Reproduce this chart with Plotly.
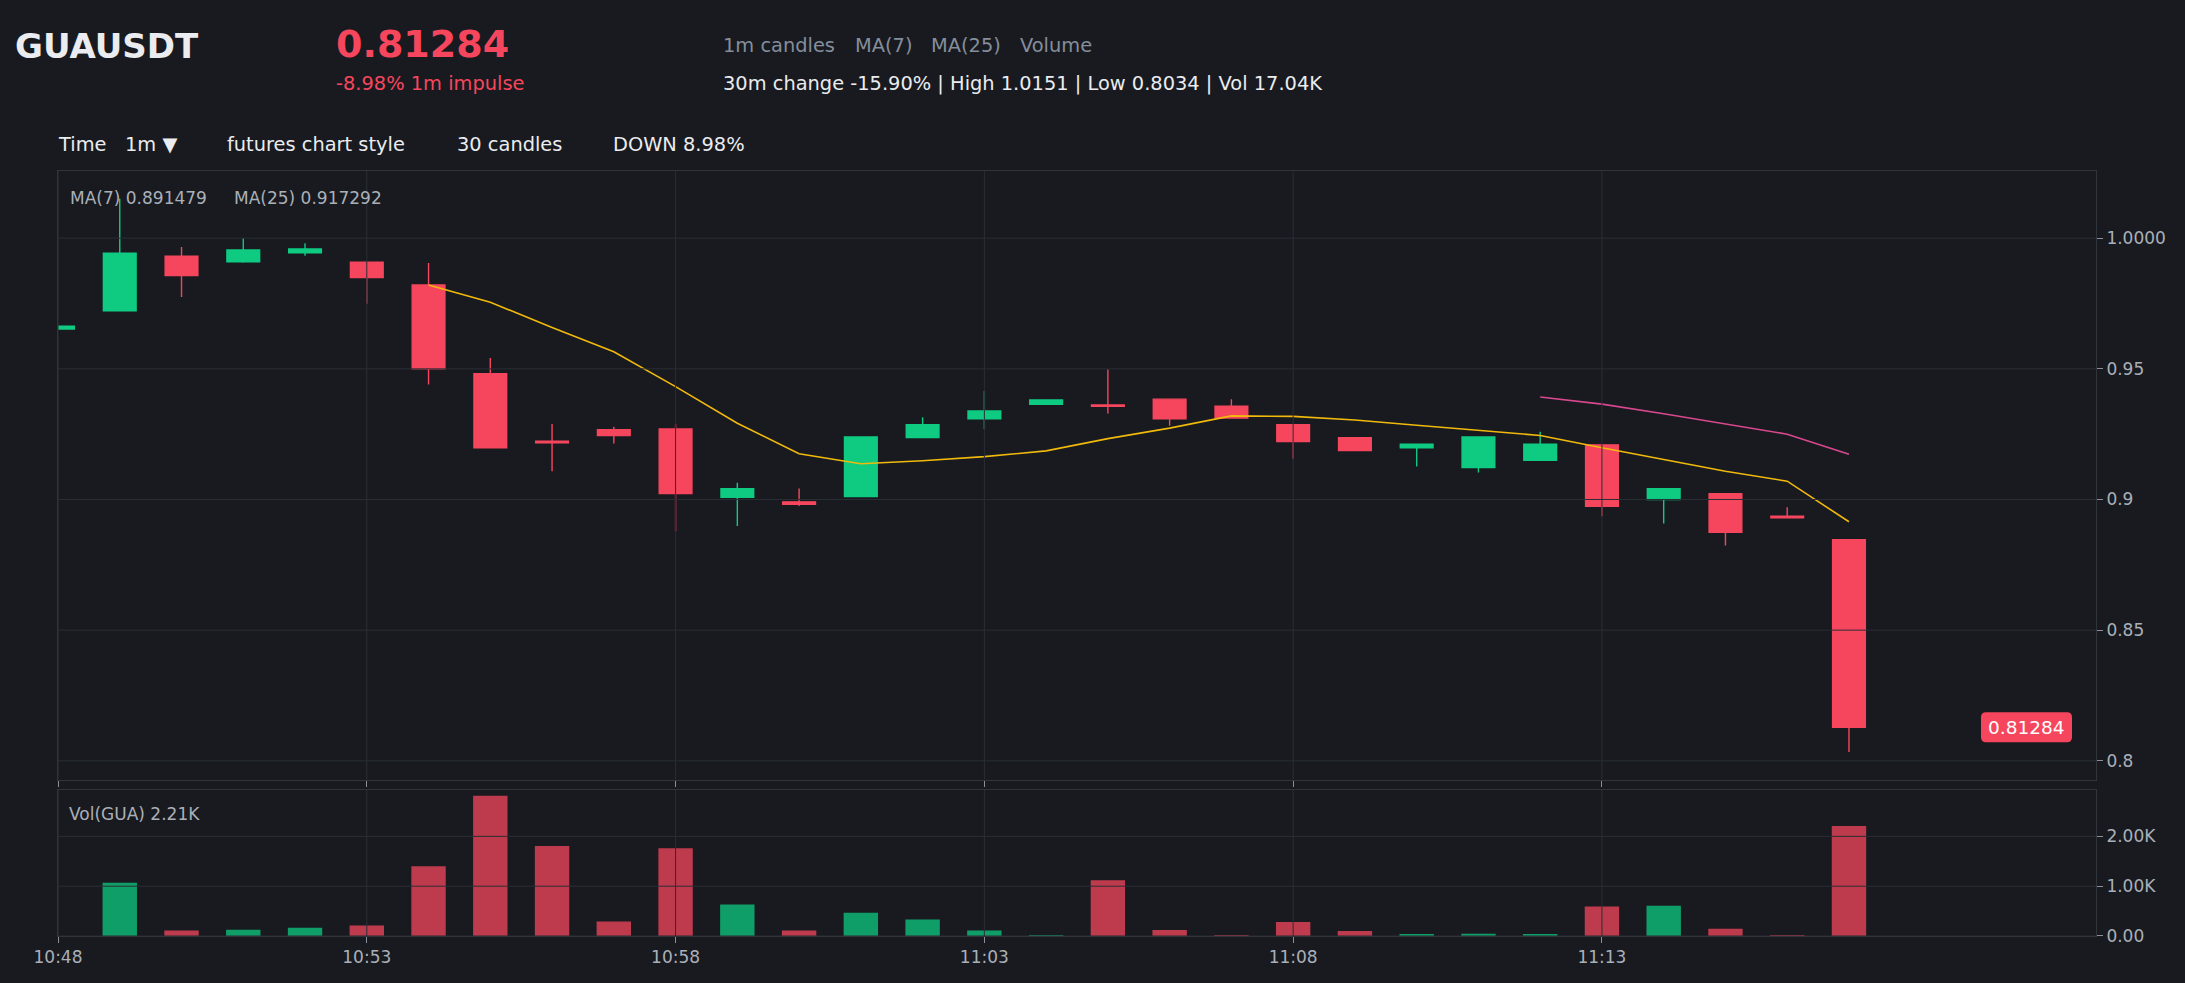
import plotly.graph_objects as go
import pandas as pd

# ---------------- data ----------------
TIMES = ["10:48", "10:49", "10:50", "10:51", "10:52", "10:53", "10:54", "10:55", "10:56", "10:57",
         "10:58", "10:59", "11:00", "11:01", "11:02", "11:03", "11:04", "11:05", "11:06", "11:07",
         "11:08", "11:09", "11:10", "11:11", "11:12", "11:13", "11:14", "11:15", "11:16", "11:17"]
OPEN = [0.9652, 0.9722, 0.9931, 0.9910, 0.9944, 0.9908, 0.9821, 0.9481, 0.9223, 0.9267,
        0.9270, 0.9008, 0.8991, 0.9011, 0.9237, 0.9309, 0.9364, 0.9362, 0.9384, 0.9357,
        0.9286, 0.9236, 0.9198, 0.9122, 0.9150, 0.9209, 0.9000, 0.9022, 0.8936, 0.8846]
HIGH = [0.9666, 1.0151, 0.9966, 1.0000, 0.9981, 0.9910, 0.9905, 0.9541, 0.9289, 0.9278,
        0.9289, 0.9064, 0.9042, 0.9239, 0.9315, 0.9415, 0.9381, 0.9497, 0.9384, 0.9384,
        0.9290, 0.9239, 0.9212, 0.9239, 0.9259, 0.9212, 0.9041, 0.9022, 0.8970, 0.8846]
LOW = [0.9650, 0.9720, 0.9775, 0.9906, 0.9933, 0.9749, 0.9440, 0.9198, 0.9108, 0.9214,
       0.8878, 0.8899, 0.8975, 0.9011, 0.9237, 0.9270, 0.9364, 0.9329, 0.9282, 0.9312,
       0.9156, 0.9187, 0.9126, 0.9103, 0.9150, 0.8936, 0.8908, 0.8824, 0.8927, 0.8034]
CLOSE = [0.9663, 0.9942, 0.9857, 0.9955, 0.9959, 0.9849, 0.9500, 0.9198, 0.9217, 0.9245,
         0.9023, 0.9041, 0.8982, 0.9239, 0.9286, 0.9339, 0.9381, 0.9357, 0.9309, 0.9312,
         0.9222, 0.9187, 0.9212, 0.9239, 0.9212, 0.8974, 0.9041, 0.8874, 0.8930, 0.81284]
VOLUME = [0, 1070, 108, 128, 168, 209, 1400, 2815, 1805, 290,
          1764, 633, 108, 465, 330, 108, 5, 1118, 121, 5,
          283, 101, 30, 47, 40, 593, 606, 148, 8, 2210]
MA7_TIMES = TIMES[6:]
MA7 = [0.9821, 0.9755, 0.9658, 0.9565, 0.9432, 0.9292, 0.9175, 0.9137, 0.9148, 0.9164,
       0.9186, 0.9233, 0.9273, 0.9320, 0.9318, 0.9304, 0.9284, 0.9265, 0.9245, 0.9198,
       0.9154, 0.9108, 0.9070, 0.891479]
MA25_TIMES = TIMES[24:]
MA25 = [0.9392, 0.9365, 0.9328, 0.9290, 0.9250, 0.917292]

X_RANGE = ["10:48", "11:21"]
X_TICKS = ["10:48", "10:53", "10:58", "11:03", "11:08", "11:13"]
PRICE_RANGE = [0.7928, 1.0257]
PRICE_TICKS = [0.8, 0.85, 0.9, 0.95, 1.0]
PRICE_TICK_TEXT = ["0.8", "0.85", "0.9", "0.95", "1.0000"]
VOL_RANGE = [0, 2930]
VOL_TICKS = [0, 1000, 2000]
VOL_TICK_TEXT = ["0.00", "1.00K", "2.00K"]

SYMBOL = "GUAUSDT"
LAST = "0.81284"

DAY = "2025-01-01 "
def ts(t):
    return pd.Timestamp(DAY + t)

x = [ts(t) for t in TIMES]

# ---------------- style ----------------
BG = "#181a20"
UP = "#0ecb81"
DOWN = "#f6465d"
GRID = "#2a2e35"
BORDER = "#30343b"
TICKC = "#8a9099"
TICKTXT = "#aab0b8"
FONT = "DejaVu Sans"

W, H = 2185, 983
ML, MR, MT, MB = 58, 89, 171, 47
PW, PH = W - ML - MR, H - MT - MB


def px(v):
    return (v - ML) / PW


def py(v):
    return (H - MB - v) / PH


fig = go.Figure()

fig.add_trace(go.Candlestick(
    x=x, open=OPEN, high=HIGH, low=LOW, close=CLOSE,
    increasing=dict(line=dict(color=UP, width=1.4), fillcolor=UP),
    decreasing=dict(line=dict(color=DOWN, width=1.4), fillcolor=DOWN),
    whiskerwidth=0, showlegend=False, hoverinfo="skip",
    xaxis="x", yaxis="y"))

fig.add_trace(go.Scatter(x=[ts(t) for t in MA7_TIMES], y=MA7, mode="lines",
                         line=dict(color="#f0b90b", width=1.6), showlegend=False,
                         hoverinfo="skip", xaxis="x", yaxis="y"))
fig.add_trace(go.Scatter(x=[ts(t) for t in MA25_TIMES], y=MA25, mode="lines",
                         line=dict(color="#d9478f", width=1.6), showlegend=False,
                         hoverinfo="skip", xaxis="x", yaxis="y"))

vol_colors = [UP if c >= o else DOWN for o, c in zip(OPEN, CLOSE)]
fig.add_trace(go.Bar(x=x, y=VOLUME, marker=dict(color=vol_colors, line=dict(width=0)),
                     opacity=0.75, showlegend=False, hoverinfo="skip",
                     xaxis="x2", yaxis="y2"))

# ---------------- grid drawn above traces ----------------
shapes = []
for v in PRICE_TICKS:
    shapes.append(dict(type="line", xref="x domain", yref="y", x0=0, x1=1, y0=v, y1=v,
                       line=dict(color=GRID, width=1), layer="above"))
for v in VOL_TICKS:
    shapes.append(dict(type="line", xref="x2 domain", yref="y2", x0=0, x1=1, y0=v, y1=v,
                       line=dict(color=GRID, width=1), layer="above"))
for t in X_TICKS:
    shapes.append(dict(type="line", xref="x", yref="y domain", x0=ts(t), x1=ts(t), y0=0, y1=1,
                       line=dict(color=GRID, width=1), layer="above"))
    shapes.append(dict(type="line", xref="x2", yref="y2 domain", x0=ts(t), x1=ts(t), y0=0, y1=1,
                       line=dict(color=GRID, width=1), layer="above"))

# last price badge (rounded rectangle)
bx0, bx1, bh, r = -115, -24, 15, 5
path = (f"M{bx0 + r},{-bh} L{bx1 - r},{-bh} Q{bx1},{-bh} {bx1},{-bh + r} "
        f"L{bx1},{bh - r} Q{bx1},{bh} {bx1 - r},{bh} L{bx0 + r},{bh} "
        f"Q{bx0},{bh} {bx0},{bh - r} L{bx0},{-bh + r} Q{bx0},{-bh} {bx0 + r},{-bh} Z")
shapes.append(dict(type="path", xref="x domain", yref="y", xsizemode="pixel", ysizemode="pixel",
                   xanchor=1, yanchor=CLOSE[-1], path=path, fillcolor=DOWN,
                   line=dict(width=0), layer="above"))

annotations = []


def ann(text, xp, yp, size, color, bold=False):
    annotations.append(dict(text=text, xref="paper", yref="paper", x=px(xp), y=py(yp),
                            xanchor="left", yanchor="middle", showarrow=False,
                            font=dict(family=FONT, size=size, color=color,
                                      weight="bold" if bold else "normal")))


ann(SYMBOL, 13, 46, 34, "#eaecef", bold=True)
ann(LAST, 334, 44, 38, DOWN, bold=True)
ann("-8.98% 1m impulse", 333.5, 84, 19.4, DOWN)
ann("1m candles", 721, 46, 19.4, "#848e9c")
ann("MA(7)", 852.5, 46, 19.4, "#848e9c")
ann("MA(25)", 928.5, 46, 19.4, "#848e9c")
ann("Volume", 1017.5, 46, 19.4, "#848e9c")
ann("30m change -15.90% | High 1.0151 | Low 0.8034 | Vol 17.04K", 721, 84, 19.4, "#eaecef")
ann("Time", 55.5, 145, 19.4, "#eaecef")
ann("1m ▼", 123, 145, 19.4, "#eaecef")
ann("futures chart style", 225, 145, 19.4, "#eaecef")
ann("30 candles", 454.5, 145, 19.4, "#eaecef")
ann("DOWN 8.98%", 610.5, 145, 19.4, "#eaecef")
ann(f"MA(7) {MA7[-1]:.6f}", 67.5, 197.5, 17, TICKTXT)
ann(f"MA(25) {MA25[-1]:.6f}", 231.5, 197.5, 17, TICKTXT)
ann("Vol(GUA) 2.21K", 67, 813.5, 17, TICKTXT)

annotations.append(dict(text=LAST, xref="x domain", yref="y", x=1, y=CLOSE[-1],
                        xshift=-69.5, xanchor="center", yanchor="middle", showarrow=False,
                        font=dict(family=FONT, size=18.5, color="#ffffff")))

axis_common = dict(showgrid=False, zeroline=False, showline=True, linecolor=BORDER,
                   linewidth=1, mirror=True, ticks="outside", ticklen=6, tickwidth=1,
                   tickcolor=TICKC, tickfont=dict(family=FONT, size=17, color=TICKTXT))

fig.update_layout(
    width=W, height=H,
    margin=dict(l=ML, r=MR, t=MT, b=MB, pad=0),
    paper_bgcolor=BG, plot_bgcolor=BG,
    font=dict(family=FONT, color=TICKTXT),
    showlegend=False,
    boxgap=0.47,
    boxgroupgap=0,
    bargap=0.443,
    xaxis=dict(domain=[0, 1], anchor="y", type="date", range=[ts(X_RANGE[0]), ts(X_RANGE[1])],
               tickvals=[ts(t) for t in X_TICKS], showticklabels=False,
               rangeslider=dict(visible=False), **axis_common),
    yaxis=dict(domain=[0.2044, 1], anchor="x", side="right", range=PRICE_RANGE,
               tickvals=PRICE_TICKS, ticktext=PRICE_TICK_TEXT, **axis_common),
    xaxis2=dict(domain=[0, 1], anchor="y2", type="date", range=[ts(X_RANGE[0]), ts(X_RANGE[1])],
                tickvals=[ts(t) for t in X_TICKS], ticktext=X_TICKS, **axis_common),
    yaxis2=dict(domain=[0, 0.1908], anchor="x2", side="right", range=VOL_RANGE,
                tickvals=VOL_TICKS, ticktext=VOL_TICK_TEXT, **axis_common),
    shapes=shapes,
    annotations=annotations,
)

fig.write_html("out.html")
